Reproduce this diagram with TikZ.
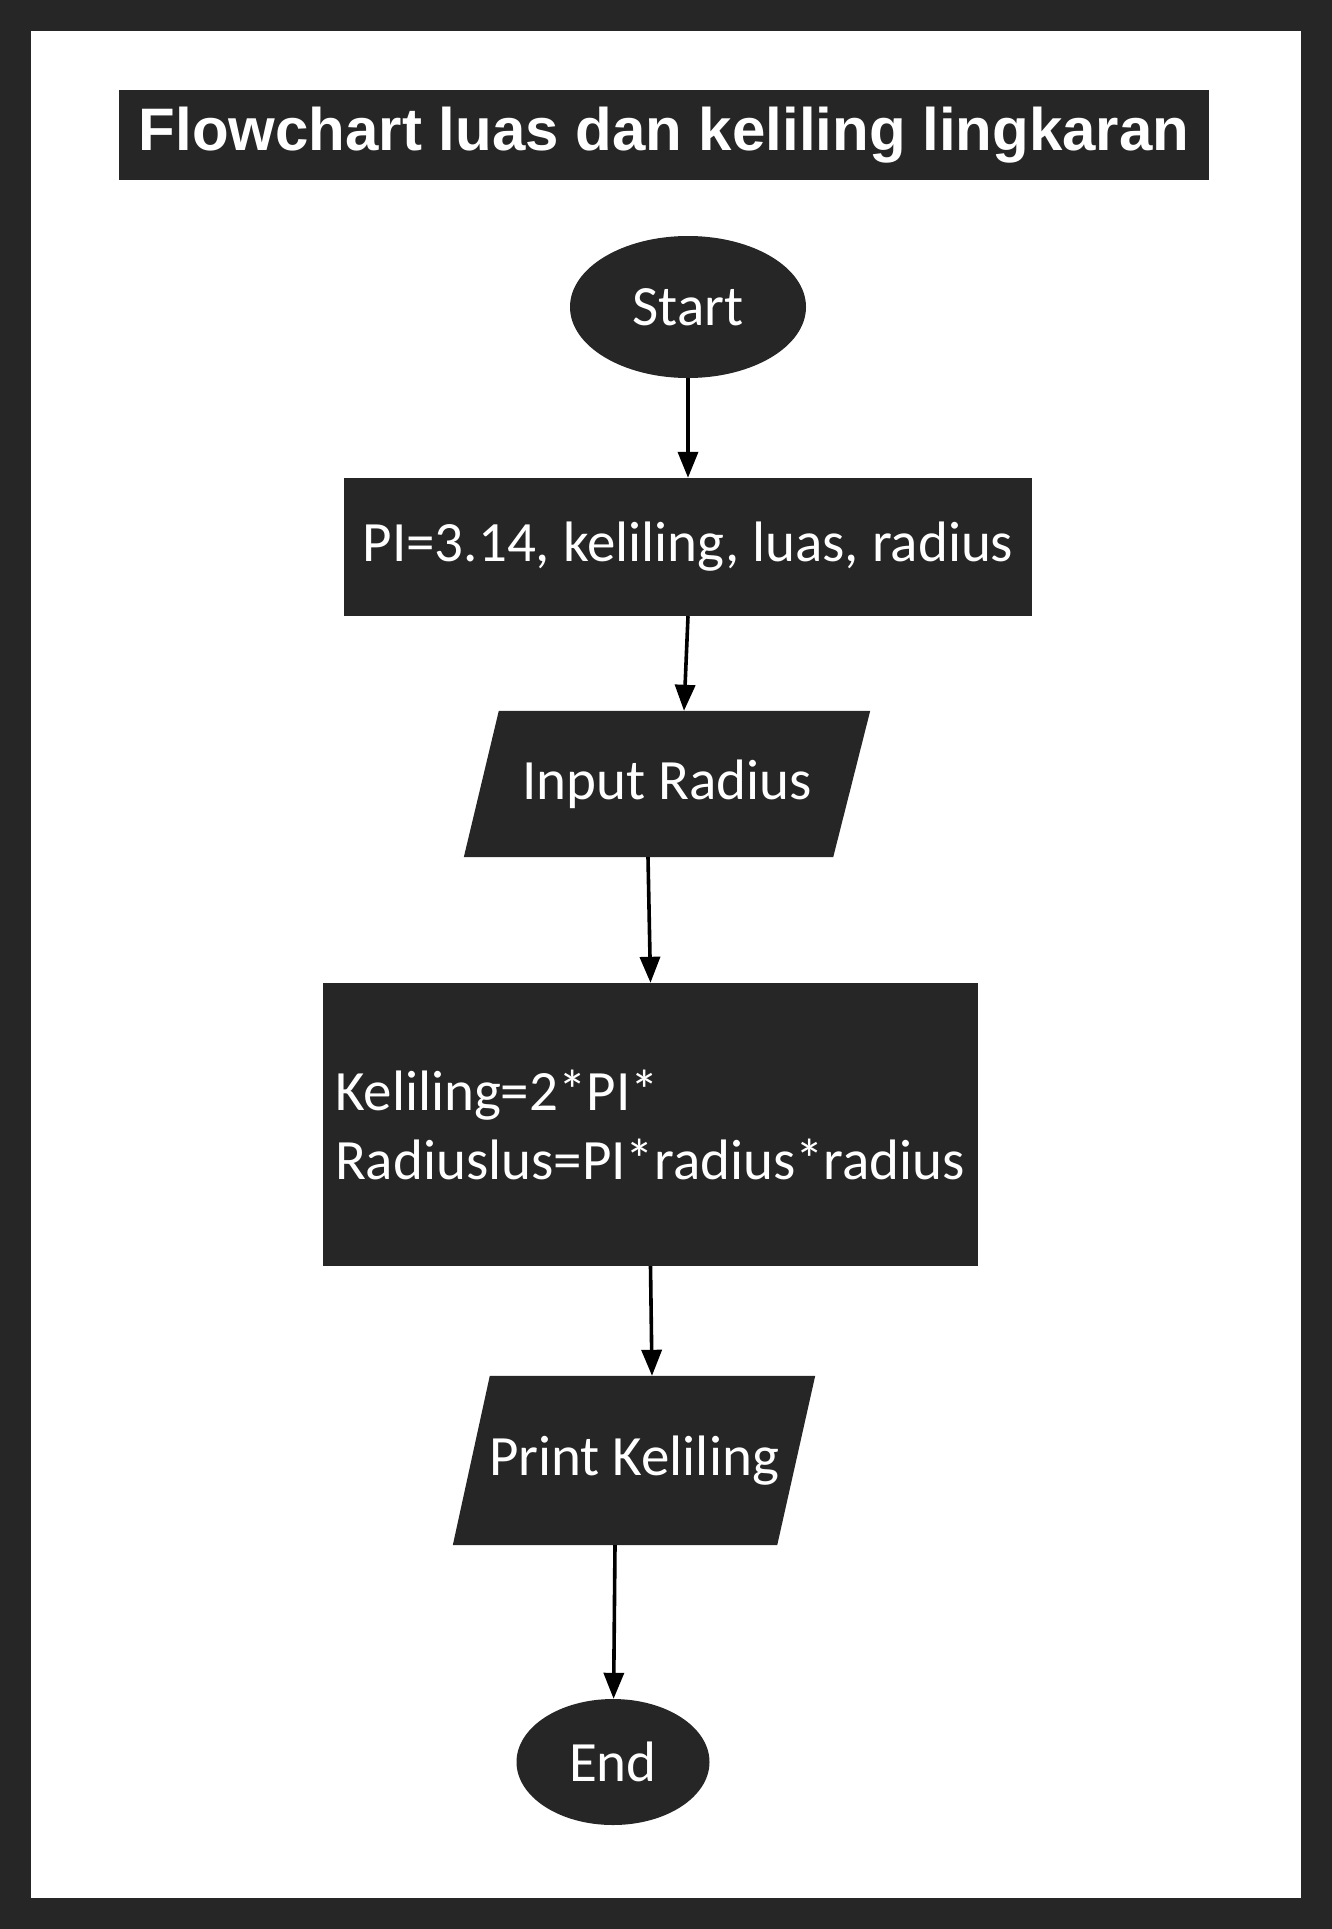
\documentclass[tikz,border=0pt]{standalone}
\usepackage{fontspec}
\setmainfont{Carlito}
\newfontfamily\ttlfont{Liberation Sans}
\usetikzlibrary{arrows.meta,backgrounds,shapes.geometric}
\definecolor{dk}{HTML}{262626}
\begin{document}
\begin{tikzpicture}[x=1pt,y=-1pt,
  shp/.style={fill=dk,text=white,inner sep=0pt,font=\fontsize{57}{69}\selectfont},
  para/.style={shp,fill=none},
  arr/.style={-{Triangle[length=26pt,width=20pt]},line width=3.6pt,black},
 ]
\useasboundingbox (0,0) rectangle (1332,1929);
\node[fill=dk,text=white,minimum width=1090pt,minimum height=90pt,inner sep=0pt,
  font=\ttlfont\bfseries\fontsize{60}{72}\selectfont] (title) at (664,135) {Flowchart luas dan keliling lingkaran};
\node[shp,ellipse,minimum width=236pt,minimum height=142pt] (start) at (688,307) {Start};
\node[shp,minimum width=688pt,minimum height=138pt] (init) at (688,547) {PI=3.14, keliling, luas, radius};
\node[para,minimum width=406pt,minimum height=146pt] (input) at (667,784) {Input Radius};
\node[shp,minimum width=655pt,minimum height=283pt,inner xsep=12pt,text width=631pt,align=left] (calc) at (650.5,1124.5) {Keliling=2*PI*\\Radiuslus=PI*radius*radius};
\node[para,minimum width=362pt,minimum height=169pt] (print) at (634,1460.5) {Print Keliling};
\node[shp,ellipse,minimum width=193pt,minimum height=126pt] (end) at (613,1762) {End};
\begin{scope}[on background layer]
\fill[dk] (0,0) rectangle (1332,1929);
\fill[white] (31,31) rectangle (1301,1898);
\fill[dk] ([xshift=35pt]input.north west) -- (input.north east) -- ([xshift=-37pt]input.south east) -- (input.south west) -- cycle;
\fill[dk] ([xshift=37pt]print.north west) -- (print.north east) -- ([xshift=-38pt]print.south east) -- (print.south west) -- cycle;
\end{scope}
\draw[arr] (start) -- (init);
\draw[arr] (init.south) -- ([xshift=17pt]input.north);
\draw[arr] ([xshift=-19pt]input.south) -- (calc.north);
\draw[arr] (calc.south) -- ([xshift=18pt]print.north);
\draw[arr] ([xshift=-19pt]print.south) -- (end);
\end{tikzpicture}
\end{document}
